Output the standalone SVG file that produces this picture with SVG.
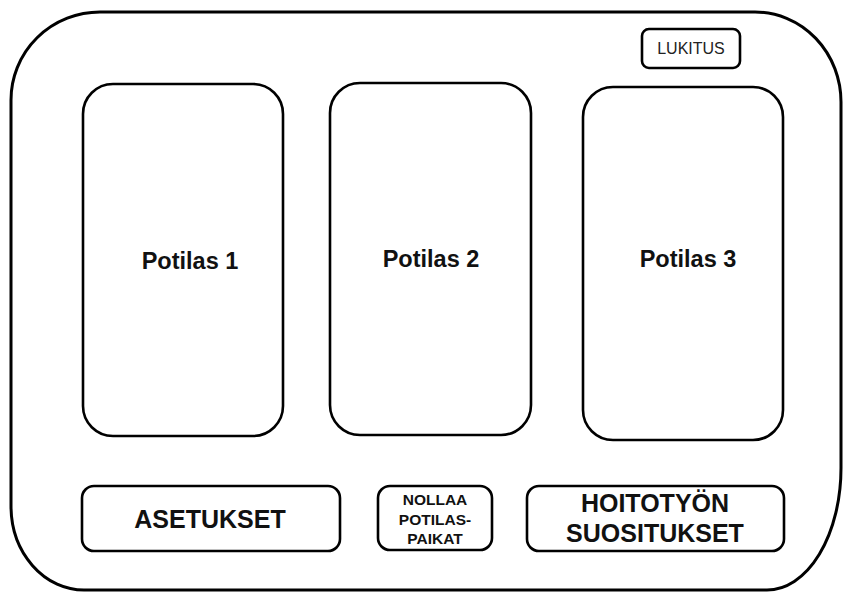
<svg xmlns="http://www.w3.org/2000/svg" width="843" height="592" viewBox="0 0 843 592">
<style>
.box{fill:#fff;stroke:#000;stroke-width:2.6}
.outer{fill:#fff;stroke:#000;stroke-width:3}
.t{font-family:"Liberation Sans",Arial,sans-serif;font-weight:bold;fill:#111;text-anchor:middle}
.n{font-family:"Liberation Sans",Arial,sans-serif;fill:#222;text-anchor:middle}
</style>
<rect width="843" height="592" fill="#fff"/>
<g id="frame">
<path class="outer" d="M100,12 H755 A86,90 0 0 1 841,102 V468 A74,122 0 0 1 767,590 H84 A73,84 0 0 1 11,506 V100 A89,88 0 0 1 100,12 Z"/>
</g>
<g id="lukitus">
<rect class="box" x="642" y="29" width="98" height="39" rx="7"/>
<text class="n" x="691" y="54" font-size="16">LUKITUS</text>
</g>
<g id="potilas1">
<rect class="box" x="83" y="84" width="200" height="352" rx="30"/>
<text class="t" x="190" y="269" font-size="23.5">Potilas 1</text>
</g>
<g id="potilas2">
<rect class="box" x="330" y="83" width="201" height="352" rx="30"/>
<text class="t" x="431" y="267" font-size="23.5">Potilas 2</text>
</g>
<g id="potilas3">
<rect class="box" x="583" y="87" width="200" height="353" rx="30"/>
<text class="t" x="688" y="267" font-size="23.5">Potilas 3</text>
</g>
<g id="asetukset">
<rect class="box" x="82" y="486" width="258" height="65" rx="12"/>
<text class="t" x="210" y="528" font-size="25">ASETUKSET</text>
</g>
<g id="nollaa">
<rect class="box" x="378" y="486" width="114" height="64" rx="12"/>
<text class="t" x="435" y="505" font-size="15.5">NOLLAA</text>
<text class="t" x="435" y="525" font-size="15.5">POTILAS-</text>
<text class="t" x="435" y="544" font-size="15.5">PAIKAT</text>
</g>
<g id="hoitotyon">
<rect class="box" x="527" y="486" width="257" height="65" rx="12"/>
<text class="t" x="655" y="512" font-size="25">HOITOTYÖN</text>
<text class="t" x="655" y="542" font-size="25">SUOSITUKSET</text>
</g>
<g id="connectors"></g>
</svg>
